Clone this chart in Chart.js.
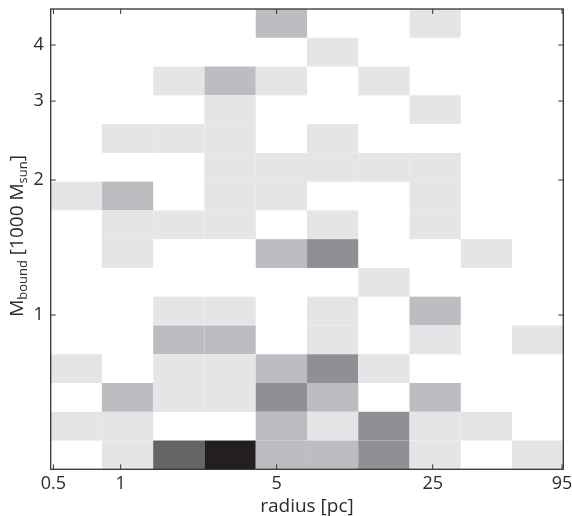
<!DOCTYPE html>
<html>
<head>
<meta charset="utf-8">
<script src="https://cdn.jsdelivr.net/npm/chart.js@4/dist/chart.umd.min.js"></script>
<style>
  body { margin: 0; background: #fff; }
  canvas { display: block; }
</style>
</head>
<body>
<canvas id="hist" width="572" height="516"></canvas>
<script>
// bin edges (log spaced)
const radiusEdges = [0.486, 0.824, 1.399, 2.374, 4.03, 6.84, 11.6, 19.69, 33.4, 56.7, 96.2];
const massEdges = [0.4529, 0.525, 0.6085, 0.7054, 0.8176, 0.9479, 1.0987, 1.2736, 1.4764,
                   1.7114, 1.9837, 2.2995, 2.6655, 3.0899, 3.5818, 4.1521, 4.8131];

// counts per cell, one row per mass bin, from highest mass down to lowest
const counts = [
  [0, 0, 0, 0, 2, 0, 0, 1, 0, 0],
  [0, 0, 0, 0, 0, 1, 0, 0, 0, 0],
  [0, 0, 1, 2, 1, 0, 1, 0, 0, 0],
  [0, 0, 0, 1, 0, 0, 0, 1, 0, 0],
  [0, 1, 1, 1, 0, 1, 0, 0, 0, 0],
  [0, 0, 0, 1, 1, 1, 1, 1, 0, 0],
  [1, 2, 0, 1, 1, 0, 0, 1, 0, 0],
  [0, 1, 1, 1, 0, 1, 0, 1, 0, 0],
  [0, 1, 0, 0, 2, 3, 0, 0, 1, 0],
  [0, 0, 0, 0, 0, 0, 1, 0, 0, 0],
  [0, 0, 1, 1, 0, 1, 0, 2, 0, 0],
  [0, 0, 2, 2, 0, 1, 0, 1, 0, 1],
  [1, 0, 1, 1, 2, 3, 1, 0, 0, 0],
  [0, 2, 1, 1, 3, 2, 0, 2, 0, 0],
  [1, 1, 0, 0, 2, 1, 3, 1, 1, 0],
  [0, 1, 4, 5, 2, 2, 3, 1, 0, 1]
];

const radiusTicks = [0.5, 1, 5, 25, 95];
const massTicks = [1, 2, 3, 4];

const shades = ['#ffffff', '#e4e5e7', '#bcbdc0', '#8f9093', '#656567', '#231f20'];
const FONT = '"Open Sans", "Noto Sans", sans-serif';
const INK = '#2b2b2b';

// draws the cells, frame, inward ticks and the axis titles
const histPlugin = {
  id: 'hist2d',
  beforeDatasetsDraw(chart) {
    const ctx = chart.ctx;
    const xs = chart.scales.x, ys = chart.scales.y;
    const nRows = counts.length;
    ctx.save();
    counts.forEach((row, r) => {
      const lo = massEdges[nRows - 1 - r], hi = massEdges[nRows - r];
      row.forEach((c, i) => {
        if (!c) return;
        const x0 = xs.getPixelForValue(radiusEdges[i]);
        const x1 = xs.getPixelForValue(radiusEdges[i + 1]);
        const y0 = ys.getPixelForValue(hi);
        const y1 = ys.getPixelForValue(lo);
        ctx.fillStyle = shades[c];
        ctx.fillRect(x0, y0, x1 - x0, y1 - y0);
      });
    });
    ctx.restore();
  },
  afterDraw(chart) {
    const ctx = chart.ctx;
    const a = chart.chartArea;
    const xs = chart.scales.x, ys = chart.scales.y;
    ctx.save();
    ctx.strokeStyle = '#333';
    ctx.lineWidth = 1.3;
    ctx.strokeRect(a.left, a.top, a.right - a.left, a.bottom - a.top);

    ctx.lineWidth = 1;
    ctx.beginPath();
    const len = 5;
    radiusTicks.forEach(v => {
      const px = xs.getPixelForValue(v);
      ctx.moveTo(px, a.bottom); ctx.lineTo(px, a.bottom - len);
      ctx.moveTo(px, a.top); ctx.lineTo(px, a.top + len);
    });
    massTicks.forEach(v => {
      const py = ys.getPixelForValue(v);
      ctx.moveTo(a.left, py); ctx.lineTo(a.left + len, py);
      ctx.moveTo(a.right, py); ctx.lineTo(a.right - len, py);
    });
    ctx.stroke();

    // x title
    ctx.fillStyle = INK;
    ctx.font = '19px ' + FONT;
    ctx.textAlign = 'center';
    ctx.textBaseline = 'alphabetic';
    ctx.fillText('radius [pc]', (a.left + a.right) / 2, 512);

    // y title with subscripts
    const parts = [
      { t: 'M', size: 19, dy: 0 },
      { t: 'bound', size: 13, dy: 4 },
      { t: ' [1000 M', size: 19, dy: 0 },
      { t: 'sun', size: 13, dy: 4 },
      { t: ']', size: 19, dy: 0 }
    ];
    let total = 0;
    parts.forEach(p => {
      ctx.font = p.size + 'px ' + FONT;
      p.w = ctx.measureText(p.t).width;
      total += p.w;
    });
    ctx.translate(23, 236);
    ctx.rotate(-Math.PI / 2);
    ctx.textAlign = 'left';
    let x = -total / 2;
    parts.forEach(p => {
      ctx.font = p.size + 'px ' + FONT;
      ctx.fillText(p.t, x, p.dy);
      x += p.w;
    });
    ctx.restore();
  }
};

new Chart(document.getElementById('hist'), {
  type: 'scatter',
  data: { datasets: [] },
  options: {
    responsive: false,
    animation: false,
    events: [],
    layout: { padding: { top: 9, right: 8.7, left: 0, bottom: 0 } },
    plugins: { legend: { display: false }, tooltip: { enabled: false } },
    scales: {
      x: {
        type: 'logarithmic',
        min: radiusEdges[0],
        max: radiusEdges[radiusEdges.length - 1],
        grid: { display: false, drawTicks: false },
        border: { display: false },
        afterBuildTicks: s => { s.ticks = radiusTicks.map(v => ({ value: v })); },
        afterFit: s => { s.height = 46.7; s.paddingLeft = 0; s.paddingRight = 0; },
        ticks: {
          autoSkip: false,
          maxRotation: 0,
          padding: 4,
          color: INK,
          font: { family: FONT, size: 18 },
          callback: v => String(v)
        }
      },
      y: {
        type: 'logarithmic',
        min: massEdges[0],
        max: massEdges[massEdges.length - 1],
        grid: { display: false, drawTicks: false },
        border: { display: false },
        afterBuildTicks: s => { s.ticks = massTicks.map(v => ({ value: v })); },
        afterFit: s => { s.width = 50.7; s.paddingTop = 0; s.paddingBottom = 0; },
        ticks: {
          autoSkip: false,
          padding: 7,
          color: INK,
          font: { family: FONT, size: 18 },
          callback: v => String(v)
        }
      }
    }
  },
  plugins: [histPlugin]
});
</script>
</body>
</html>
